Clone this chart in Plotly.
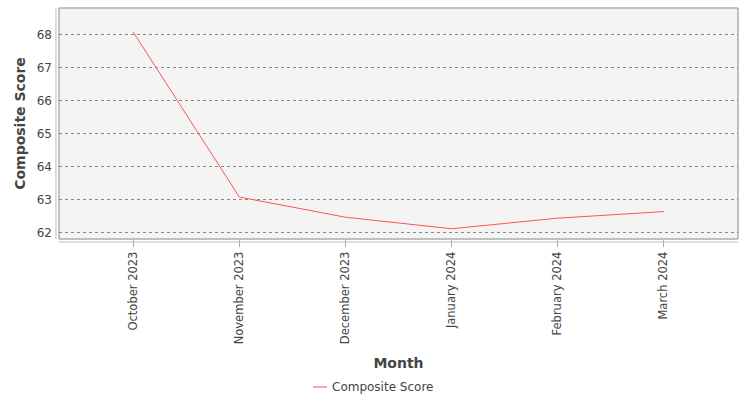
import plotly.graph_objects as go

months = ["October 2023", "November 2023", "December 2023",
          "January 2024", "February 2024", "March 2024"]
composite_score = [68.07, 63.08, 62.47, 62.12, 62.44, 62.64]
y_ticks = [62, 63, 64, 65, 66, 67, 68]
series_name = "Composite Score"
line_color = "#ff5555"

fig = go.Figure()
fig.add_trace(go.Scatter(
    x=months, y=composite_score, mode="lines", name=series_name,
    line=dict(color=line_color, width=1), showlegend=False,
))

font = "DejaVu Sans, sans-serif"
# plot area is 679 x 231 px starting at (59, 8)
legend_y = (239 - 387) / 231
fig.update_layout(
    width=750, height=400,
    margin=dict(l=59, r=12, t=8, b=161),
    paper_bgcolor="white", plot_bgcolor="#f4f4f4",
    font=dict(family=font, size=12, color="#444444"),
    xaxis=dict(
        type="category", range=[-0.7, 5.7], showgrid=False, zeroline=False,
        automargin=False,
        tickangle=-90, ticks="outside", ticklen=7, tickcolor="#aaaaaa",
        tickfont=dict(size=11.5, color="#444444"),
        title=dict(text="<b>Month</b>", font=dict(size=14, color="#444444"), standoff=14),
    ),
    yaxis=dict(
        range=[61.81, 68.8], tickvals=y_ticks, showgrid=True,
        gridcolor="#888888", griddash="dot", gridwidth=1, zeroline=False,
        automargin=False,
        ticks="", ticklabelstandoff=6,
        tickfont=dict(size=12, color="#444444"),
        title=dict(text="<b>Composite Score</b>", font=dict(size=14, color="#444444"), standoff=7),
    ),
    shapes=[
        dict(type="rect", xref="paper", yref="paper", x0=0, x1=1, y0=0, y1=1,
             line=dict(color="#888888", width=1)),
        dict(type="line", xref="paper", yref="paper", x0=-0.0045, x1=-0.0045, y0=0, y1=1,
             line=dict(color="#bbbbbb", width=1)),
        dict(type="line", xref="paper", yref="paper", x0=0, x1=1, y0=-0.013, y1=-0.013,
             line=dict(color="#bbbbbb", width=1)),
        dict(type="line", xref="paper", yref="paper",
             x0=(313 - 59) / 679, x1=(327 - 59) / 679, y0=legend_y, y1=legend_y,
             line=dict(color=line_color, width=1)),
    ],
    annotations=[
        dict(text=series_name, xref="paper", yref="paper",
             x=(330 - 59) / 679, y=legend_y, xanchor="left", yanchor="middle",
             showarrow=False, font=dict(size=12, color="#444444")),
    ],
)

# drop the page's default body margin so the figure sits at (0, 0)
fig.write_html("out.html", config={"displayModeBar": False},
               post_script="document.body.style.margin='0';")
